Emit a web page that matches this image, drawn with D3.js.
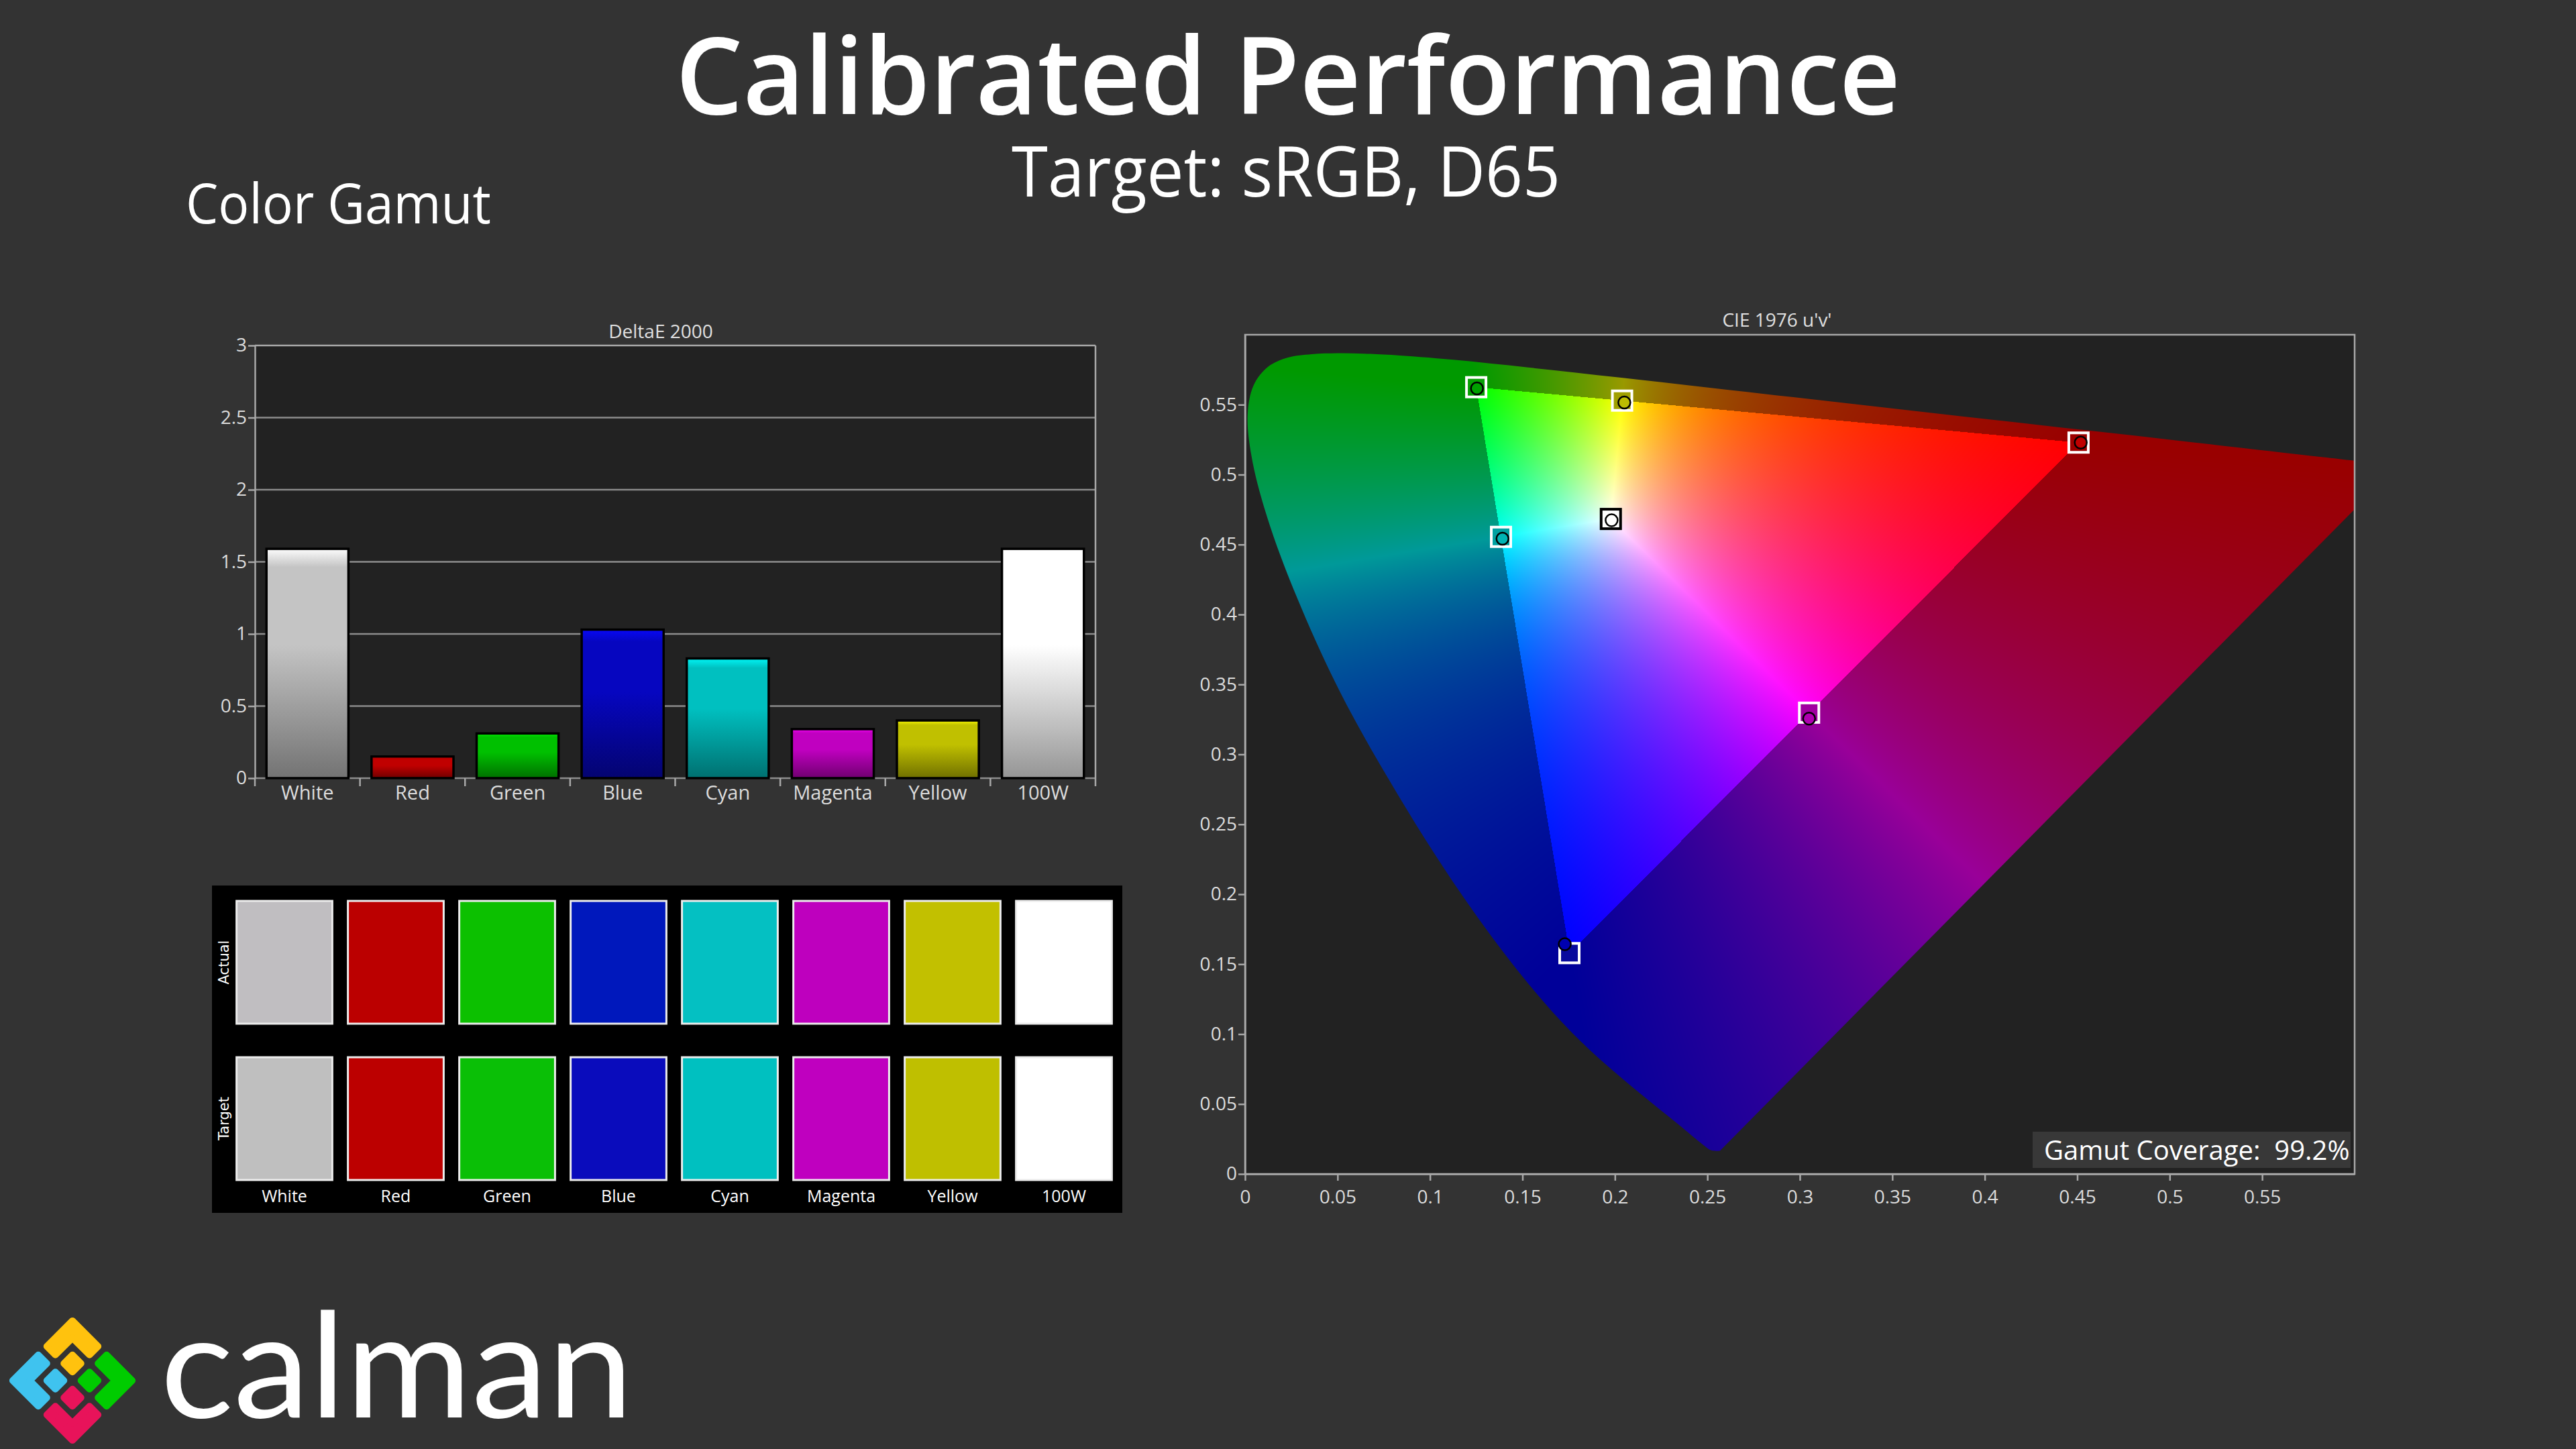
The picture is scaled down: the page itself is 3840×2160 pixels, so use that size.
<!DOCTYPE html>
<html>
<head>
<meta charset="utf-8">
<script src="https://cdn.jsdelivr.net/npm/d3@7"></script>
<style>
  body { margin: 0; background: #333333; }
  svg { display: block; }
</style>
</head>
<body>
<div id="chart"></div>
<script>
// Calibrated performance page: DeltaE bars, swatches, CIE u'v' gamut

var width = 3840,
    height = 2160;

// ---- data ----
var categories   = ["White", "Red", "Green", "Blue", "Cyan", "Magenta", "Yellow", "100W"];
var deltaE       = [1.59, 0.15, 0.31, 1.03, 0.83, 0.34, 0.40, 1.59];
var barColors    = ["#c4c4c4", "#c00000", "#00c000", "#0606c0", "#00c0c0", "#c000c0", "#c0c000", "#ffffff"];
var deTicks      = [0, 0.5, 1, 1.5, 2, 2.5, 3];

var actualSwatch = ["#c0bec1", "#bb0000", "#0cc000", "#0018bc", "#04c0c2", "#be00be", "#c2c000", "#ffffff"];
var targetSwatch = ["#bfbfbf", "#bc0000", "#0abf06", "#0a0cbc", "#00c0c0", "#bf00bf", "#bfbf00", "#ffffff"];

var uTicks = [0, 0.05, 0.1, 0.15, 0.2, 0.25, 0.3, 0.35, 0.4, 0.45, 0.5, 0.55];
var vTicks = [0, 0.05, 0.1, 0.15, 0.2, 0.25, 0.3, 0.35, 0.4, 0.45, 0.5, 0.55];

// spectral locus, 380 .. 700 nm
var locusU = [0.2568, 0.2522, 0.2461, 0.2347, 0.2161, 0.1877, 0.1690, 0.1441, 0.1147, 0.0828,
              0.0521, 0.0282, 0.0119, 0.0035, 0.0014, 0.0046, 0.0123, 0.0231, 0.0360, 0.0501,
              0.0643, 0.0792, 0.1127, 0.1531, 0.2026, 0.2623, 0.3315, 0.4035, 0.4692, 0.5203,
              0.5830, 0.6234];
var locusV = [0.0166, 0.0169, 0.0226, 0.0350, 0.0549, 0.0871, 0.1119, 0.1510, 0.2044, 0.2708,
              0.3427, 0.4117, 0.4698, 0.5131, 0.5432, 0.5638, 0.5770, 0.5837, 0.5861, 0.5868,
              0.5865, 0.5856, 0.5821, 0.5766, 0.5694, 0.5604, 0.5501, 0.5393, 0.5296, 0.5219,
              0.5125, 0.5065];

var pointNames = ["White", "Red", "Green", "Blue", "Cyan", "Magenta", "Yellow"];
var targetU = [0.1978, 0.4507, 0.1250, 0.1754, 0.1384, 0.3050, 0.2039];
var targetV = [0.4683, 0.5229, 0.5625, 0.1579, 0.4555, 0.3298, 0.5529];
var actualU = [0.1982, 0.4519, 0.1254, 0.1729, 0.1392, 0.3050, 0.2051];
var actualV = [0.4674, 0.5229, 0.5616, 0.1643, 0.4542, 0.3255, 0.5516];
var markerFill = ["#ffffff", "#c00000", "#00a000", "#0000b0", "#00b4b4", "#b000b0", "#bcbc00"];
var gamutCoverage = "99.2%";

var labelFont = "'Open Sans', 'Noto Sans', sans-serif";

var svg = d3.select("#chart").append("svg")
    .attr("width", width)
    .attr("height", height);

var defs = svg.append("defs");

svg.append("rect")
    .attr("width", width)
    .attr("height", height)
    .attr("fill", "#333333");

// squeeze a text horizontally to a given width, keeping its height
function fitText(t, x, y, w, anchor) {
  t.attr("x", 0).attr("y", 0).attr("text-anchor", anchor || "start");
  var k = w / t.node().getComputedTextLength();
  t.attr("transform", "translate(" + x + "," + y + ") scale(" + k + ",1)");
  return t;
}

// ---- headings ----
fitText(svg.append("text")
    .attr("font-family", labelFont)
    .attr("font-weight", 600)
    .attr("font-size", 160)
    .attr("fill", "#ffffff")
    .text("Calibrated Performance"), 1920, 170, 1826, "middle");

fitText(svg.append("text")
    .attr("font-family", labelFont)
    .attr("font-size", 104)
    .attr("fill", "#ffffff")
    .text("Target: sRGB, D65"), 1917, 293, 818, "middle");

fitText(svg.append("text")
    .attr("font-family", labelFont)
    .attr("font-size", 82)
    .attr("fill", "#ffffff")
    .text("Color Gamut"), 277, 333, 455);

// ---- DeltaE 2000 bars ----
var xDE = d3.scaleBand()
    .domain(categories)
    .range([380, 1633])
    .paddingInner(0.22)
    .paddingOuter(0.11);

var yDE = d3.scaleLinear()
    .domain([0, 3])
    .range([1160, 515]);

var barChart = svg.append("g").attr("class", "deltae");

barChart.append("rect")
    .attr("x", xDE.range()[0])
    .attr("y", yDE(3))
    .attr("width", xDE.range()[1] - xDE.range()[0])
    .attr("height", yDE(0) - yDE(3))
    .attr("fill", "#222222");

barChart.selectAll("line.grid")
  .data(deTicks)
  .enter().append("line")
    .attr("class", "grid")
    .attr("x1", xDE.range()[0])
    .attr("x2", xDE.range()[1])
    .attr("y1", function(d) { return yDE(d); })
    .attr("y2", function(d) { return yDE(d); })
    .attr("stroke", function(d) { return d == 3 ? "#a8a8a8" : "#8c8c8c"; })
    .attr("stroke-width", 2.5);

barChart.append("line")
    .attr("x1", xDE.range()[1]).attr("x2", xDE.range()[1])
    .attr("y1", yDE(3)).attr("y2", yDE(0))
    .attr("stroke", "#a8a8a8")
    .attr("stroke-width", 2.5);

// bar gradients
categories.forEach(function(c, i) {
  var base = d3.color(barColors[i]);
  var g = defs.append("linearGradient")
      .attr("id", "bar-grad-" + i)
      .attr("x1", 0).attr("y1", 0).attr("x2", 0).attr("y2", 1);
  var stops = [
    [0,    base.brighter(0.7)],
    [0.08, base],
    [0.42, base],
    [1,    base.darker(1.5)]
  ];
  stops.forEach(function(s) {
    g.append("stop").attr("offset", s[0]).attr("stop-color", s[1].formatHex());
  });
});

barChart.selectAll("rect.bar")
  .data(deltaE)
  .enter().append("rect")
    .attr("class", "bar")
    .attr("x", function(d, i) { return xDE(categories[i]); })
    .attr("width", xDE.bandwidth())
    .attr("y", function(d) { return yDE(d); })
    .attr("height", function(d) { return yDE(0) - yDE(d); })
    .attr("fill", function(d, i) { return "url(#bar-grad-" + i + ")"; })
    .attr("stroke", "#000000")
    .attr("stroke-width", 3.5);

var yAxisDE = barChart.append("g")
    .attr("transform", "translate(" + xDE.range()[0] + ",0)")
    .call(d3.axisLeft(yDE).tickValues(deTicks).tickSize(10).tickSizeOuter(0)
      .tickPadding(2).tickFormat(d3.format("~g")));

var xAxisDE = barChart.append("g")
    .attr("transform", "translate(0," + yDE(0) + ")")
    .call(d3.axisBottom(xDE).tickSize(0).tickPadding(11));
xAxisDE.select(".domain").remove();

// boundary ticks between categories
var bounds = d3.range(categories.length + 1).map(function(i) {
  return i == categories.length ? xDE.range()[1] : xDE(categories[i]) - xDE.step() * xDE.paddingInner() / 2;
});
bounds[0] = xDE.range()[0];
barChart.selectAll("line.sep")
  .data(bounds)
  .enter().append("line")
    .attr("class", "sep")
    .attr("x1", function(d) { return d; })
    .attr("x2", function(d) { return d; })
    .attr("y1", yDE(0))
    .attr("y2", yDE(0) + 12)
    .attr("stroke", "#a8a8a8")
    .attr("stroke-width", 2.5);

barChart.append("text")
    .attr("x", 985).attr("y", 504)
    .attr("text-anchor", "middle")
    .attr("font-family", labelFont)
    .attr("font-size", 28)
    .attr("fill", "#e0e0e0")
    .text("DeltaE 2000");

// ---- swatches ----
var xSw = d3.scaleBand()
    .domain(categories)
    .range([341, 1669])
    .paddingInner(0.14)
    .paddingOuter(0.07);

var rows = [
  {name: "Actual", colors: actualSwatch, top: 1343},
  {name: "Target", colors: targetSwatch, top: 1576}
];
var swH = 183;

var swatches = svg.append("g").attr("class", "swatches");
swatches.append("rect")
    .attr("x", 316).attr("y", 1320)
    .attr("width", 1357).attr("height", 488)
    .attr("fill", "#000000");

rows.forEach(function(row) {
  swatches.selectAll("rect.sw-" + row.name)
    .data(row.colors)
    .enter().append("rect")
      .attr("class", "sw-" + row.name)
      .attr("x", function(d, i) { return xSw(categories[i]); })
      .attr("y", row.top)
      .attr("width", xSw.bandwidth())
      .attr("height", swH)
      .attr("fill", function(d) { return d; })
      .attr("stroke", "#ececec")
      .attr("stroke-width", 3);

  swatches.append("text")
      .attr("transform", "translate(341," + (row.top + swH / 2) + ") rotate(-90)")
      .attr("text-anchor", "middle")
      .attr("font-family", "'DejaVu Sans', Verdana, sans-serif")
      .attr("font-size", 21)
      .attr("fill", "#ffffff")
      .text(row.name);
});

swatches.selectAll("text.sw-label")
  .data(categories)
  .enter().append("text")
    .attr("class", "sw-label")
    .attr("x", function(d) { return xSw(d) + xSw.bandwidth() / 2; })
    .attr("y", 1792)
    .attr("text-anchor", "middle")
    .attr("font-family", labelFont)
    .attr("font-size", 25)
    .attr("fill", "#ffffff")
    .text(function(d) { return d; });

// ---- CIE 1976 u'v' ----
var u = d3.scaleLinear().domain([0, 0.6]).range([1856, 3510]);
var v = d3.scaleLinear().domain([0, 0.6]).range([1750, 499]);

var cie = svg.append("g").attr("class", "cie");

cie.append("rect")
    .attr("x", u(0)).attr("y", v(0.6))
    .attr("width", u(0.6) - u(0)).attr("height", v(0) - v(0.6))
    .attr("fill", "#222222");

defs.append("clipPath").attr("id", "plot-clip")
  .append("rect")
    .attr("x", u(0)).attr("y", v(0.6))
    .attr("width", u(0.6) - u(0)).attr("height", v(0) - v(0.6));

var locusLine = d3.line()
    .x(function(d, i) { return u(locusU[i]); })
    .y(function(d, i) { return v(locusV[i]); })
    .curve(d3.curveCatmullRom.alpha(0.5));

defs.append("clipPath").attr("id", "locus-clip")
  .append("path")
    .attr("d", locusLine(locusU) + "Z");

// colour fill of the horseshoe, computed per pixel through the scales
function gamutImage() {
  var x0 = u.range()[0], yTop = v.range()[1];
  var w = Math.round(u.range()[1] - x0), h = Math.round(v.range()[0] - yTop);
  var cv = document.createElement("canvas");
  cv.width = w; cv.height = h;
  var ctx = cv.getContext("2d");
  var img = ctx.createImageData(w, h);
  var data = img.data;
  for (var py = 0; py < h; py++) {
    var vv = v.invert(yTop + py + 0.5);
    for (var px = 0; px < w; px++) {
      var uu = u.invert(x0 + px + 0.5);
      var den = 6 * uu - 16 * vv + 12;
      var cx = 9 * uu / den, cy = 4 * vv / den;
      if (cy < 1e-4) continue;
      var X = cx / cy, Z = (1 - cx - cy) / cy;
      var r =  3.2406 * X - 1.5372 - 0.4986 * Z;
      var g = -0.9689 * X + 1.8758 + 0.0415 * Z;
      var b =  0.0557 * X - 0.2040 + 1.0570 * Z;
      var inside = r >= 0 && g >= 0 && b >= 0;
      r = Math.max(r, 0); g = Math.max(g, 0); b = Math.max(b, 0);
      var m = Math.max(r, g, b);
      if (m <= 0) continue;
      var k = inside ? 255 : 153;
      var o = (py * w + px) * 4;
      data[o]     = r / m * k;
      data[o + 1] = g / m * k;
      data[o + 2] = b / m * k;
      data[o + 3] = 255;
    }
  }
  ctx.putImageData(img, 0, 0);
  return cv.toDataURL();
}

var plotArea = cie.append("g").attr("clip-path", "url(#plot-clip)");

plotArea.append("g")
    .attr("clip-path", "url(#locus-clip)")
  .append("image")
    .attr("x", u(0)).attr("y", v(0.6))
    .attr("width", Math.round(u(0.6) - u(0)))
    .attr("height", Math.round(v(0) - v(0.6)))
    .attr("preserveAspectRatio", "none")
    .attr("href", gamutImage());

// target squares and measured circles
var sq = 29;
plotArea.selectAll("rect.target")
  .data(pointNames)
  .enter().append("rect")
    .attr("class", "target")
    .attr("x", function(d, i) { return u(targetU[i]) - sq / 2; })
    .attr("y", function(d, i) { return v(targetV[i]) - sq / 2; })
    .attr("width", sq)
    .attr("height", sq)
    .attr("fill", function(d, i) {
      var c = d3.color(targetSwatch[categories.indexOf(d)]);
      return d == "White" ? "#ffffff" : c.darker(0.5).formatHex();
    })
    .attr("stroke", function(d) { return d == "White" ? "#000000" : "#ffffff"; })
    .attr("stroke-width", 4);

plotArea.selectAll("circle.actual")
  .data(pointNames)
  .enter().append("circle")
    .attr("class", "actual")
    .attr("cx", function(d, i) { return u(actualU[i]); })
    .attr("cy", function(d, i) { return v(actualV[i]); })
    .attr("r", 9)
    .attr("fill", function(d, i) { return markerFill[i]; })
    .attr("stroke", "#000000")
    .attr("stroke-width", 2.5);

cie.append("rect")
    .attr("x", u(0)).attr("y", v(0.6))
    .attr("width", u(0.6) - u(0)).attr("height", v(0) - v(0.6))
    .attr("fill", "none")
    .attr("stroke", "#a8a8a8")
    .attr("stroke-width", 2.5);

var uAxis = cie.append("g")
    .attr("transform", "translate(0," + v(0) + ")")
    .call(d3.axisBottom(u).tickValues(uTicks).tickSize(10).tickSizeOuter(0)
      .tickPadding(14).tickFormat(d3.format("~g")));

var vAxis = cie.append("g")
    .attr("transform", "translate(" + u(0) + ",0)")
    .call(d3.axisLeft(v).tickValues(vTicks).tickSize(10).tickSizeOuter(0)
      .tickPadding(2).tickFormat(d3.format("~g")));

cie.append("text")
    .attr("x", 2649).attr("y", 487)
    .attr("text-anchor", "middle")
    .attr("font-family", labelFont)
    .attr("font-size", 28)
    .attr("fill", "#e0e0e0")
    .text("CIE 1976 u'v'");

cie.append("rect")
    .attr("x", 3030).attr("y", 1687)
    .attr("width", 474).attr("height", 54)
    .attr("fill", "#383838");

cie.append("text")
    .attr("x", 3047).attr("y", 1729)
    .attr("font-family", labelFont)
    .attr("font-size", 40)
    .attr("fill", "#ffffff")
    .style("white-space", "pre")
    .text("Gamut Coverage:  " + gamutCoverage);

// axis styling
[yAxisDE, xAxisDE, uAxis, vAxis].forEach(function(ax) {
  ax.selectAll(".domain").attr("stroke", "#a8a8a8").attr("stroke-width", 2.5);
  ax.selectAll(".tick line").attr("stroke", "#a8a8a8").attr("stroke-width", 2.5);
  ax.selectAll(".tick text")
    .attr("fill", "#dcdcdc")
    .attr("font-family", labelFont)
    .attr("font-size", 28);
});
xAxisDE.selectAll(".tick text").attr("font-size", 29);

// ---- calman logo ----
var cell = 36, gap = 4, rad = 5, ins = gap + rad;
var logo = svg.append("g")
    .attr("transform", "translate(108,2058) rotate(45)")
    .attr("stroke-linejoin", "round");

var lPts = [[ins, ins], [2 * cell - ins, ins], [2 * cell - ins, cell - ins],
            [cell - ins, cell - ins], [cell - ins, 2 * cell - ins], [ins, 2 * cell - ins]];
var corners = [
  {color: "#ffc20e", sx:  1, sy:  1},
  {color: "#00cc00", sx: -1, sy:  1},
  {color: "#e8135a", sx: -1, sy: -1},
  {color: "#3fc3ef", sx:  1, sy: -1}
];
corners.forEach(function(c) {
  logo.append("polygon")
      .attr("points", lPts.map(function(p) {
        return [(-2 * cell + p[0]) * c.sx, (-2 * cell + p[1]) * c.sy].join(",");
      }).join(" "))
      .attr("fill", c.color)
      .attr("stroke", c.color)
      .attr("stroke-width", rad * 2);
});
var inner = [
  {color: "#ffc20e", i: 1, j: 1},
  {color: "#00cc00", i: 2, j: 1},
  {color: "#e8135a", i: 2, j: 2},
  {color: "#3fc3ef", i: 1, j: 2}
];
inner.forEach(function(c) {
  logo.append("rect")
      .attr("x", -2 * cell + c.i * cell + ins)
      .attr("y", -2 * cell + c.j * cell + ins)
      .attr("width", cell - 2 * ins)
      .attr("height", cell - 2 * ins)
      .attr("fill", c.color)
      .attr("stroke", c.color)
      .attr("stroke-width", rad * 2);
});

fitText(svg.append("text")
    .attr("font-family", "Lato, 'Noto Sans', sans-serif")
    .attr("font-size", 218)
    .attr("fill", "#ffffff")
    .text("calman"), 239, 2113, 705);
</script>
</body>
</html>
